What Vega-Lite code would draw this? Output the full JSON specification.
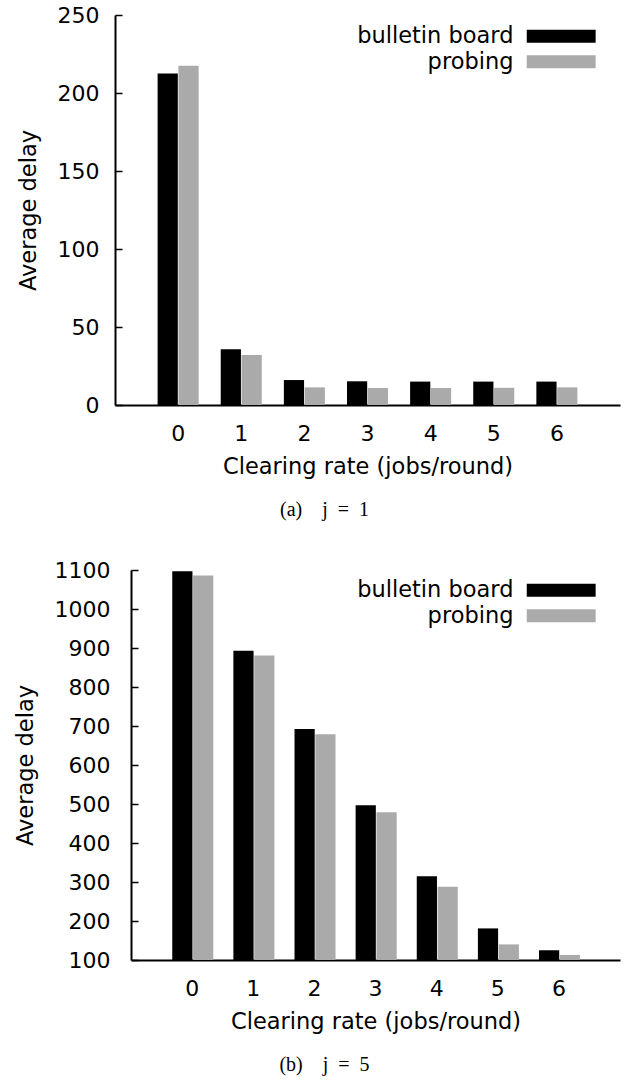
{
  "$schema": "https://vega.github.io/schema/vega-lite/v6.json",
  "padding": {"left": 14, "top": 4, "right": 8, "bottom": 2},
  "background": "white",
  "config": {
    "font": "DejaVu Sans",
    "view": {"stroke": null},
    "axis": {"grid": false, "domainColor": "black", "domainWidth": 2, "tickColor": "black", "labelColor": "black", "titleColor": "black", "labelFont": "DejaVu Sans", "titleFont": "DejaVu Sans", "labelFontSize": 22, "titleFontSize": 22.5, "titleFontWeight": "normal"},
    "legend": {"padding": 0, "labelFont": "DejaVu Sans", "labelFontSize": 22.5, "labelColor": "black", "labelAlign": "right", "labelOffset": -31, "symbolType": "M-1,-1H9.6V1H-1Z", "symbolSize": 169, "symbolStrokeWidth": 0, "rowPadding": 2.5, "orient": "none", "title": null},
    "title": {"font": "Liberation Serif", "fontSize": 20, "fontWeight": "normal", "color": "black"}
  },
  "datasets": {
    "j1": [
      {"rate": "0", "method": "bulletin board", "delay": 212.5},
      {"rate": "0", "method": "probing", "delay": 217.5},
      {"rate": "1", "method": "bulletin board", "delay": 35.7},
      {"rate": "1", "method": "probing", "delay": 32},
      {"rate": "2", "method": "bulletin board", "delay": 16},
      {"rate": "2", "method": "probing", "delay": 11.3},
      {"rate": "3", "method": "bulletin board", "delay": 15.2},
      {"rate": "3", "method": "probing", "delay": 10.9},
      {"rate": "4", "method": "bulletin board", "delay": 15},
      {"rate": "4", "method": "probing", "delay": 10.9},
      {"rate": "5", "method": "bulletin board", "delay": 15},
      {"rate": "5", "method": "probing", "delay": 11},
      {"rate": "6", "method": "bulletin board", "delay": 15},
      {"rate": "6", "method": "probing", "delay": 11.3}
    ],
    "j5": [
      {"rate": "0", "method": "bulletin board", "delay": 1097},
      {"rate": "0", "method": "probing", "delay": 1086},
      {"rate": "1", "method": "bulletin board", "delay": 893},
      {"rate": "1", "method": "probing", "delay": 881},
      {"rate": "2", "method": "bulletin board", "delay": 692},
      {"rate": "2", "method": "probing", "delay": 679},
      {"rate": "3", "method": "bulletin board", "delay": 497},
      {"rate": "3", "method": "probing", "delay": 479},
      {"rate": "4", "method": "bulletin board", "delay": 315},
      {"rate": "4", "method": "probing", "delay": 288},
      {"rate": "5", "method": "bulletin board", "delay": 181},
      {"rate": "5", "method": "probing", "delay": 140},
      {"rate": "6", "method": "bulletin board", "delay": 125},
      {"rate": "6", "method": "probing", "delay": 113}
    ]
  },
  "vconcat": [
    {
      "data": {"name": "j1"},
      "width": 505,
      "height": 390,
      "title": {"text": "(a)\u2003j\u2002=\u20021", "orient": "bottom", "anchor": "middle", "dx": -43, "offset": 22},
      "mark": {"type": "bar"},
      "encoding": {
        "x": {"field": "rate", "type": "ordinal", "sort": null, "title": "Clearing rate (jobs/round)",
              "scale": {"paddingInner": 0.35, "paddingOuter": 0.675},
              "axis": {"labelAngle": 0, "ticks": false, "labelPadding": 18, "titlePadding": 11}},
        "xOffset": {"field": "method", "type": "nominal", "sort": ["bulletin board", "probing"], "scale": {"paddingInner": 0.03}},
        "y": {"field": "delay", "type": "quantitative", "title": "Average delay",
              "scale": {"domain": [0, 250], "nice": false},
              "axis": {"values": [0, 50, 100, 150, 200, 250], "format": "d", "tickSize": -7, "tickWidth": 1.5, "labelPadding": 23, "titlePadding": 17}},
        "color": {"field": "method", "type": "nominal", "sort": ["bulletin board", "probing"],
                  "scale": {"domain": ["bulletin board", "probing"], "range": ["#000000", "#aaaaaa"]},
                  "legend": {"legendX": 407, "legendY": 10}}
      }
    },
    {
      "data": {"name": "j5"},
      "width": 505,
      "height": 390,
      "title": {"text": "(b)\u2003j\u2002=\u20025", "orient": "bottom", "anchor": "middle", "dx": -43, "offset": 22},
      "mark": {"type": "bar", "clip": true},
      "encoding": {
        "x": {"field": "rate", "type": "ordinal", "sort": null, "title": "Clearing rate (jobs/round)",
              "scale": {"paddingInner": 0.35, "paddingOuter": 0.675, "range": [16, 505]},
              "axis": {"labelAngle": 0, "ticks": false, "labelPadding": 18, "titlePadding": 11}},
        "xOffset": {"field": "method", "type": "nominal", "sort": ["bulletin board", "probing"], "scale": {"paddingInner": 0.03}},
        "y": {"field": "delay", "type": "quantitative", "title": "Average delay",
              "scale": {"domain": [100, 1100], "nice": false, "zero": false, "clamp": true},
              "axis": {"values": [100, 200, 300, 400, 500, 600, 700, 800, 900, 1000, 1100], "format": "d", "offset": -16, "tickSize": -7, "tickWidth": 1.5, "labelPadding": 28, "titlePadding": 17}},
        "color": {"field": "method", "type": "nominal", "sort": ["bulletin board", "probing"],
                  "scale": {"domain": ["bulletin board", "probing"], "range": ["#000000", "#aaaaaa"]},
                  "legend": {"legendX": 407, "legendY": 9}}
      }
    }
  ],
  "spacing": 39,
  "resolve": {"legend": {"color": "independent"}, "scale": {"color": "independent", "x": "independent", "y": "independent"}}
}
